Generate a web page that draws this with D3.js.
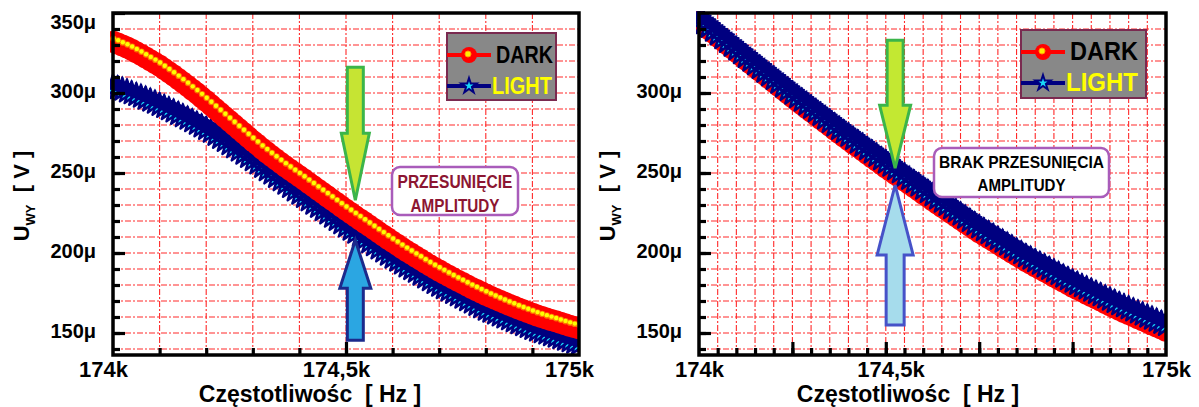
<!DOCTYPE html>
<html>
<head>
<meta charset="utf-8">
<script src="https://cdn.jsdelivr.net/npm/d3@7"></script>
<style>
  body { margin: 0; background: #fff; }
  svg { display: block; }
  text { font-family: 'Liberation Sans', Arial, sans-serif; }
</style>
</head>
<body>
<svg id="chart" width="1199" height="407"></svg>
<script>
// sweep points, 10 Hz step
const freqHz = d3.range(174000, 175001, 10)

// U_wy in microvolts
const darkLeft = [
  332.0, 330.9, 329.7, 328.4, 327.0, 325.5, 323.9, 322.2, 320.5, 318.8,
  317.0, 315.0, 313.0, 310.9, 308.8, 306.6, 304.4, 302.1, 299.8, 297.4,
  295.0, 292.5, 290.0, 287.5, 285.0, 282.5, 280.0, 277.5, 275.0, 272.5,
  270.0, 267.6, 265.2, 262.9, 260.6, 258.4, 256.2, 254.1, 252.0, 250.0,
  248.0, 245.9, 243.8, 241.7, 239.6, 237.5, 235.4, 233.3, 231.2, 229.1,
  227.0, 225.0, 223.0, 221.0, 219.0, 217.0, 215.0, 213.0, 211.0, 209.0,
  207.0, 205.1, 203.2, 201.3, 199.5, 197.7, 195.9, 194.1, 192.3, 190.6,
  189.0, 187.4, 185.8, 184.2, 182.7, 181.2, 179.7, 178.2, 176.8, 175.4,
  174.0, 172.7, 171.4, 170.1, 168.9, 167.7, 166.5, 165.3, 164.2, 163.1,
  162.0, 161.0, 160.0, 159.1, 158.2, 157.3, 156.4, 155.5, 154.6, 153.8,
  153.0
]
const lightLeft = [
  304.0, 303.0, 302.0, 300.9, 299.8, 298.7, 297.6, 296.4, 295.2, 293.9,
  292.5, 291.2, 289.8, 288.4, 286.9, 285.4, 283.9, 282.3, 280.7, 279.1,
  277.5, 275.7, 273.8, 271.9, 270.0, 268.0, 266.0, 264.0, 262.0, 260.0,
  258.0, 255.9, 253.8, 251.7, 249.6, 247.5, 245.4, 243.3, 241.2, 239.1,
  237.0, 235.0, 232.9, 230.8, 228.8, 226.7, 224.7, 222.6, 220.6, 218.5,
  216.5, 214.5, 212.6, 210.6, 208.7, 206.7, 204.8, 202.8, 200.9, 198.9,
  197.0, 195.2, 193.4, 191.6, 189.9, 188.2, 186.4, 184.7, 183.0, 181.2,
  179.5, 178.0, 176.5, 175.0, 173.5, 172.0, 170.5, 169.0, 167.5, 166.0,
  164.5, 163.3, 162.1, 160.9, 159.7, 158.5, 157.3, 156.1, 154.9, 153.7,
  152.5, 151.5, 150.5, 149.6, 148.6, 147.7, 146.7, 145.8, 144.8, 143.9,
  143.0
]
const darkRight = [
  345.0, 342.6, 340.2, 337.8, 335.4, 333.0, 330.6, 328.2, 325.8, 323.4,
  321.0, 318.6, 316.3, 313.9, 311.6, 309.2, 306.9, 304.5, 302.2, 299.8,
  297.5, 295.2, 293.0, 290.7, 288.5, 286.2, 284.0, 281.7, 279.5, 277.2,
  275.0, 272.8, 270.7, 268.5, 266.4, 264.2, 262.1, 259.9, 257.8, 255.6,
  253.5, 251.5, 249.4, 247.4, 245.3, 243.3, 241.2, 239.2, 237.1, 235.1,
  233.0, 231.0, 229.0, 227.0, 225.0, 223.0, 221.0, 219.0, 217.0, 215.0,
  213.0, 211.2, 209.4, 207.6, 205.8, 204.0, 202.2, 200.4, 198.6, 196.8,
  195.0, 193.4, 191.8, 190.2, 188.6, 187.0, 185.4, 183.8, 182.2, 180.6,
  179.0, 177.5, 176.1, 174.6, 173.2, 171.7, 170.3, 168.8, 167.4, 165.9,
  164.5, 163.2, 161.9, 160.6, 159.3, 158.0, 156.7, 155.4, 154.1, 152.8,
  151.5
]
const lightRight = [
  346.0, 343.6, 341.3, 338.9, 336.6, 334.2, 331.9, 329.5, 327.2, 324.8,
  322.5, 320.2, 317.9, 315.6, 313.3, 311.0, 308.7, 306.4, 304.1, 301.8,
  299.5, 297.3, 295.1, 292.9, 290.7, 288.5, 286.3, 284.1, 281.9, 279.7,
  277.5, 275.4, 273.3, 271.2, 269.1, 267.0, 264.9, 262.8, 260.7, 258.6,
  256.5, 254.5, 252.4, 250.4, 248.3, 246.3, 244.2, 242.2, 240.1, 238.1,
  236.0, 234.0, 232.0, 230.0, 228.0, 226.0, 224.0, 222.0, 220.0, 218.0,
  216.0, 214.2, 212.4, 210.6, 208.8, 207.0, 205.2, 203.4, 201.6, 199.8,
  198.0, 196.4, 194.8, 193.2, 191.6, 190.0, 188.4, 186.8, 185.2, 183.6,
  182.0, 180.6, 179.2, 177.8, 176.4, 175.0, 173.6, 172.2, 170.8, 169.4,
  168.0, 166.7, 165.4, 164.1, 162.8, 161.5, 160.2, 158.9, 157.6, 156.3,
  155.0
]

const xLabelText = ['174k', '174,5k', '175k']
const leftXLabelAt = [174000, 174500, 175000]
const rightXLabelAt = [174000, 174410, 175000]
const leftYLabels = [150, 200, 250, 300, 350]
const rightYLabels = [150, 200, 250, 300]
const yMinor = d3.range(140, 350, 10)
const leftXMinor = d3.range(174100, 175000, 100)
const leftXMajor = [174500]
const rightXMinor = d3.range(174040, 175000, 40)
const rightXMajor = [174200, 174400, 174600, 174800]

const svg = d3.select('#chart')
const plotTop = 13, plotBottom = 355
const starShape = r => d3.symbol().type(d3.symbolStar).size(r * r / 0.8908)()

function arrowPath(tx, ty, dir, len, headLen, headHW, shaftHW) {
  // dir = 1 points down, -1 points up
  let b = ty - dir * headLen, e = ty - dir * len
  return `M${tx},${ty} L${tx - headHW},${b} L${tx - shaftHW},${b} L${tx - shaftHW},${e} ` +
    `L${tx + shaftHW},${e} L${tx + shaftHW},${b} L${tx + headHW},${b} Z`
}

function drawPanel(p) {
  let g = svg.append('g')
  let x = d3.scaleLinear().domain([174000, 175000]).range([p.x0, p.x1])
  let y = d3.scaleLinear().domain([136.25, 350]).range([plotBottom, plotTop])

  // grid
  g.append('g').selectAll('line').data(p.xGrid).join('line')
    .attr('x1', d => x(d)).attr('x2', d => x(d))
    .attr('y1', plotTop).attr('y2', plotBottom)
    .attr('stroke', '#ff2a2a').attr('stroke-width', 1.1)
    .attr('stroke-dasharray', '6,2,2,2')
  g.append('g').selectAll('line').data(yMinor).join('line')
    .attr('x1', p.x0).attr('x2', p.x1)
    .attr('y1', d => y(d)).attr('y2', d => y(d))
    .attr('stroke', '#ff2a2a').attr('stroke-width', 1.1)
    .attr('stroke-dasharray', '6,2,2,2')

  // series
  let clipId = 'clip' + p.x0
  g.append('clipPath').attr('id', clipId).append('rect')
    .attr('x', p.x0 - 3).attr('y', plotTop - 2)
    .attr('width', p.x1 - p.x0 + 3).attr('height', plotBottom - plotTop + 2)
  let plot = g.append('g').attr('clip-path', `url(#${clipId})`)
  let line = d3.line().x((d, i) => x(freqHz[i])).y(d => y(d))
  let pos = (d, i) => `translate(${x(freqHz[i])},${y(d)})`

  function drawDark() {
    plot.append('path').datum(p.dark).attr('d', line)
      .attr('fill', 'none').attr('stroke', '#ff0000').attr('stroke-width', 4)
    plot.append('g').selectAll('circle').data(p.dark).join('circle')
      .attr('transform', pos).attr('r', 11).attr('fill', '#ff0000')
    plot.append('g').selectAll('circle').data(p.dark).join('circle')
      .attr('transform', pos).attr('r', 3.2).attr('cx', 0.5).attr('cy', -3)
      .attr('fill', '#ff8c00').attr('opacity', 0.8)
    plot.append('g').selectAll('circle').data(p.dark).join('circle')
      .attr('transform', pos).attr('r', 2.2).attr('cx', 0.5).attr('cy', -3.3)
      .attr('fill', '#ffff00')
  }
  function drawLight() {
    plot.append('path').datum(p.light).attr('d', line)
      .attr('fill', 'none').attr('stroke', '#000080').attr('stroke-width', 4)
    plot.append('g').selectAll('path').data(p.light).join('path')
      .attr('transform', pos).attr('d', starShape(12))
      .attr('fill', '#18d8f8').attr('stroke', '#000080').attr('stroke-width', 2.5)
      .attr('stroke-linejoin', 'round')
    // dark body covering the upper part, leaves cyan teeth at the bottom
    plot.append('g').selectAll('path').data(p.light).join('path')
      .attr('transform', (d, i) => `translate(${x(freqHz[i])},${y(d) - 3})`)
      .attr('d', starShape(11.5)).attr('fill', '#000080')
  }
  if (p.darkOnTop) { drawLight(); drawDark() } else { drawDark(); drawLight() }

  // ticks, pointing inside
  let yMajorAxis = d3.axisLeft(y).tickValues(p.yLabels).tickSize(-12).tickPadding(17)
    .tickFormat(d => d + 'μ')
  let yA = g.append('g').attr('transform', `translate(${p.x0},0)`).call(yMajorAxis)
  g.append('g').attr('transform', `translate(${p.x0},0)`)
    .call(d3.axisLeft(y).tickValues(yMinor).tickSize(-7).tickFormat(''))
  g.append('g').attr('transform', `translate(0,${plotBottom})`)
    .call(d3.axisBottom(x).tickValues(p.xMinor).tickSize(-7).tickFormat(''))
  g.append('g').attr('transform', `translate(0,${plotBottom})`)
    .call(d3.axisBottom(x).tickValues(p.xMajor).tickSize(-13).tickFormat(''))
  let xA = g.append('g').attr('transform', `translate(0,${plotBottom})`)
    .call(d3.axisBottom(x).tickValues(p.xLabelAt).tickSize(0).tickPadding(6)
      .tickFormat((d, i) => xLabelText[i]))
  g.selectAll('.domain').remove()
  g.selectAll('.tick line').attr('stroke', '#000').attr('stroke-width', 3.2)
  yA.selectAll('text').attr('font-size', 20).attr('font-weight', 'bold').attr('fill', '#000')
    .attr('font-family', "'Liberation Sans', Arial, sans-serif")
    .attr('dy', d => (y(d) < 20 ? '0.75em' : '0.2em'))
  xA.selectAll('text').attr('font-size', 22).attr('font-weight', 'bold').attr('fill', '#000')
    .attr('font-family', "'Liberation Sans', Arial, sans-serif")
    .attr('dx', p.labelDx)

  // frame
  g.append('rect').attr('x', p.x0).attr('y', plotTop)
    .attr('width', p.x1 - p.x0).attr('height', plotBottom - plotTop)
    .attr('fill', 'none').attr('stroke', '#000').attr('stroke-width', 3.5)

  // axis titles
  g.append('text').attr('x', p.titleX).attr('y', 402).attr('text-anchor', 'middle')
    .attr('font-size', 23).attr('font-weight', 'bold').attr('xml:space', 'preserve')
    .text('Częstotliwośc  [ Hz ]')
  let yt = g.append('text')
    .attr('transform', `translate(${p.x0 - 84},196) rotate(-90)`)
    .attr('text-anchor', 'middle').attr('font-size', 22).attr('font-weight', 'bold')
  yt.append('tspan').text('U')
  yt.append('tspan').attr('font-size', 13).attr('dy', 6).text('WY')
  yt.append('tspan').attr('dy', -6).attr('xml:space', 'preserve').text('  [ V ]')

  // legend
  let L = p.legend
  let lg = g.append('g').attr('transform', `translate(${L.x},${L.y})`)
  lg.append('rect').attr('width', L.w).attr('height', L.h)
    .attr('fill', '#888888').attr('stroke', '#7a2a50').attr('stroke-width', 2)
  lg.append('line').attr('x1', 0).attr('x2', 44).attr('y1', L.r1).attr('y2', L.r1)
    .attr('stroke', '#ff0000').attr('stroke-width', 4)
  lg.append('circle').attr('cx', 22).attr('cy', L.r1).attr('r', 8).attr('fill', '#ff0000')
  lg.append('circle').attr('cx', 21).attr('cy', L.r1 - 1).attr('r', 3)
    .attr('fill', '#ffee00').attr('stroke', '#ff9a00')
  lg.append('line').attr('x1', 0).attr('x2', 44).attr('y1', L.r2).attr('y2', L.r2)
    .attr('stroke', '#000080').attr('stroke-width', 4)
  lg.append('path').attr('transform', `translate(22,${L.r2})`).attr('d', starShape(8))
    .attr('fill', '#18d8f8').attr('stroke', '#000080').attr('stroke-width', 2)
  lg.append('text').attr('x', 49).attr('y', L.r1 + 8).attr('font-size', L.fs)
    .attr('font-weight', 'bold').attr('textLength', L.tl[0]).attr('lengthAdjust', 'spacingAndGlyphs')
    .attr('fill', '#000').text('DARK')
  lg.append('text').attr('x', 45).attr('y', L.r2 + 8).attr('font-size', L.fs)
    .attr('font-weight', 'bold').attr('textLength', L.tl[1]).attr('lengthAdjust', 'spacingAndGlyphs')
    .attr('fill', '#ffff00').text('LIGHT')

  // arrows
  p.arrows.forEach(a => {
    g.append('path')
      .attr('d', arrowPath(x(a.f), y(a.v), a.dir, a.len, a.headLen, a.headHW, a.shaftHW))
      .attr('fill', a.fill).attr('stroke', a.stroke).attr('stroke-width', 3)
      .attr('stroke-linejoin', 'miter')
  })

  // note box
  let B = p.box
  g.append('rect').attr('x', B.x).attr('y', B.y).attr('width', B.w).attr('height', B.h)
    .attr('rx', 8).attr('fill', '#fff').attr('stroke', '#a95cba').attr('stroke-width', 2.5)
  B.lines.forEach((t, i) => {
    g.append('text').attr('x', B.x + B.w / 2).attr('y', B.y + B.base[i])
      .attr('text-anchor', 'middle').attr('font-size', B.fs).attr('font-weight', 'bold')
      .attr('fill', B.color).attr('textLength', B.tl[i]).attr('lengthAdjust', 'spacingAndGlyphs')
      .text(t)
  })
}

drawPanel({
  x0: 113, x1: 579, dark: darkLeft, light: lightLeft, darkOnTop: true,
  xGrid: leftXMinor, xMinor: leftXMinor, xMajor: leftXMajor,
  xLabelAt: leftXLabelAt, yLabels: leftYLabels, labelDx: -10, titleX: 310,
  legend: { x: 447, y: 33, w: 109, h: 67, r1: 22, r2: 53, fs: 23, tl: [57, 60] },
  arrows: [
    { f: 174520, v: 233, dir: 1, len: 133, headLen: 67, headHW: 14, shaftHW: 8,
      fill: '#c6e433', stroke: '#3bb54a' },
    { f: 174520, v: 208, dir: -1, len: 100, headLen: 48, headHW: 15.5, shaftHW: 8,
      fill: '#2ba6e2', stroke: '#1c2a8c' }
  ],
  box: { x: 392, y: 167, w: 126, h: 48, lines: ['PRZESUNIĘCIE', 'AMPLITUDY'],
    base: [21, 45], tl: [115, 89], fs: 19, color: '#8c1632' }
})

drawPanel({
  x0: 699, x1: 1166, dark: darkRight, light: lightRight, darkOnTop: false,
  xGrid: rightXMinor, xMinor: rightXMinor, xMajor: rightXMajor,
  xLabelAt: rightXLabelAt, yLabels: rightYLabels, labelDx: 0, titleX: 908,
  legend: { x: 1021, y: 30, w: 125, h: 68, r1: 22, r2: 53, fs: 25, tl: [68, 72] },
  arrows: [
    { f: 174420, v: 253, dir: 1, len: 128, headLen: 63, headHW: 15.5, shaftHW: 8,
      fill: '#c3e832', stroke: '#3bb54a' },
    { f: 174420, v: 242.5, dir: -1, len: 140, headLen: 70, headHW: 18, shaftHW: 9,
      fill: '#a6dcec', stroke: '#4652c8' }
  ],
  box: { x: 934, y: 148, w: 175, h: 49, lines: ['BRAK PRZESUNIĘCIA', 'AMPLITUDY'],
    base: [20, 43], tl: [165, 88], fs: 17, color: '#000' }
})
</script>
</body>
</html>
